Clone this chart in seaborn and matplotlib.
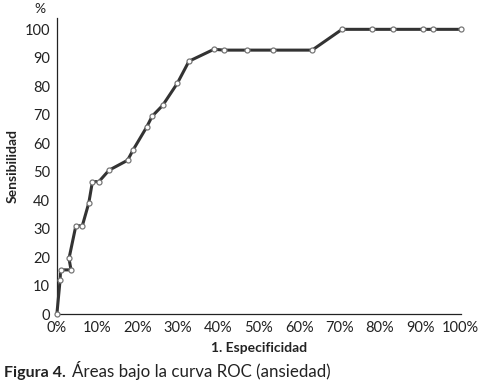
import matplotlib
matplotlib.use("Agg")
import matplotlib.pyplot as plt
import seaborn as sns
import pandas as pd

# --- DATA ---
especificidad = [0, 0.8, 0.9, 3.5, 3.0, 4.7, 6.3, 7.9, 8.8, 10.4, 12.9, 17.5,
                 18.9, 22.2, 23.6, 26.2, 29.8, 32.7, 38.9, 41.3, 47.0, 53.5,
                 63.2, 70.6, 78.0, 83.2, 90.7, 93.1, 100]
sensibilidad = [0, 12, 15.5, 15.5, 19.5, 31, 31, 39, 46.5, 46.5, 50.5, 54,
                57.7, 65.6, 69.5, 73.3, 81, 88.8, 93, 92.7, 92.7, 92.7,
                92.7, 100, 100, 100, 100, 100, 100]
x_ticks = list(range(0, 101, 10))
x_ticklabels = [f"{t}%" for t in x_ticks]
y_ticks = list(range(0, 101, 10))

df = pd.DataFrame({"x": especificidad, "y": sensibilidad})

sns.set_style("white")
plt.rcParams["font.family"] = ["Lato", "DejaVu Sans"]

fig = plt.figure(figsize=(4.78, 3.82), dpi=100)
ax = fig.add_axes([0.119, 0.178, 0.845, 0.775])

sns.lineplot(data=df, x="x", y="y", sort=False, ax=ax, color="#333333",
             linewidth=2.2, marker="o", markersize=3.6,
             markerfacecolor="white", markeredgecolor="#777777",
             markeredgewidth=0.9, clip_on=False, zorder=3)

ax.set_xlim(0, 100)
ax.set_ylim(0, 104)
ax.set_xticks(x_ticks)
ax.set_xticklabels(x_ticklabels)
ax.set_yticks(y_ticks)
ax.tick_params(axis="both", direction="inout", length=6, width=0.9,
               color="#222222", labelsize=10.5, labelcolor="#222222", pad=2)
for side in ["top", "right"]:
    ax.spines[side].set_visible(False)
for side in ["left", "bottom"]:
    ax.spines[side].set_color("#222222")
    ax.spines[side].set_linewidth(0.9)

ax.set_xlabel("1. Especificidad", fontsize=10, fontweight="bold",
              color="#222222", labelpad=5)
ax.set_ylabel("Sensibilidad", fontsize=10, fontweight="bold",
              color="#222222", labelpad=4)

fig.text(40 / 478, 1 - 9 / 382, "%", ha="center", va="center",
         fontsize=10, color="#222222")
fig.text(4 / 478, 1 - 377 / 382, "Figura 4.", ha="left", va="baseline",
         fontsize=11.5, fontweight="bold", color="#222222")
fig.text(72 / 478, 1 - 377 / 382, "Áreas bajo la curva ROC (ansiedad)",
         ha="left", va="baseline", fontsize=12.2, color="#222222")

fig.savefig("out.png", dpi=100)
